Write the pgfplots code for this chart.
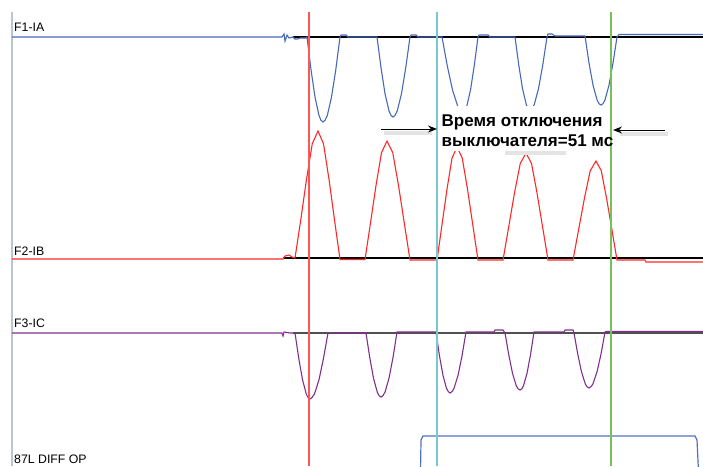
\documentclass[border=0pt]{standalone}
\usepackage{pgfplots}
\pgfplotsset{compat=1.18}
\usepackage{fontspec}
\setmainfont{Liberation Sans}
\usetikzlibrary{arrows.meta}
\definecolor{traceA}{RGB}{70,105,185}
\definecolor{traceB}{RGB}{255,40,40}
\definecolor{traceC}{RGB}{128,48,140}
\definecolor{vred}{RGB}{255,85,85}
\definecolor{vcyan}{RGB}{120,200,210}
\definecolor{vgreen}{RGB}{120,190,90}
\definecolor{axgray}{RGB}{190,196,206}
\definecolor{stepblue}{RGB}{80,115,190}
\definecolor{basegray}{RGB}{80,80,80}
\definecolor{shadow}{RGB}{228,228,228}
\begin{document}
\begin{tikzpicture}
\path[use as bounding box] (0,0) rectangle (703pt,466pt);
\begin{axis}[
  at={(0,0)}, anchor=south west,
  width=703pt, height=466pt, scale only axis,
  xmin=0, xmax=703, ymin=0, ymax=466, y dir=reverse,
  hide axis, clip mode=individual,
]
% left axis line
\addplot[axgray, line width=1.3pt] coordinates {(12,12) (12,466)};
% baselines
\addplot[black, line width=1.3pt] coordinates {(293,37) (703,37)};
\addplot[black, line width=1.4pt] coordinates {(283,258) (703,258)};
\addplot[basegray, line width=1.3pt] coordinates {(293,333) (703,333)};
% F1-IA
\addplot[traceA, line width=1.1pt] coordinates {
(12,37) (282,37) (284,34) (285,41) (287,35) (289,38) (293,37) (295,39) (298,39) (300,38) (306,38)
(307,37) (311,69.6) (315,97.1) (319,115.5) (321,120.3) (323,122) (325,120.3) (327.3,115.5) (331.5,97.1) (335.8,69.6) (340,37)
(341,35) (346,35) (348,37) (377,37)
(381,67.6) (385,93.6) (389,110.9) (391,115.4) (393,117) (395,115.4) (397.25,110.9) (401.5,93.6) (405.75,67.6) (410,37)
(411,35) (416,35) (418,37) (442,37)
(447.25,65.7) (452.5,90) (457.75,106.3) (460.5,110.5) (463,112) (465,110.5) (466.75,106.3) (470.5,90) (474.25,65.7) (478,37)
(479,35) (488,35) (490,37) (515,37)
(518.75,65) (522.5,88.6) (526.25,104.5) (528,108.5) (530,110) (532,108.5) (534.25,104.5) (538.5,88.6) (542.75,65) (547,37)
(548,34) (552,34) (555,36) (585,36)
(589,63) (593,85.1) (597,99.8) (599,103.7) (601,105) (603,103.7) (605,99.8) (609,85.1) (613,63) (617,37)
(619,34.5) (703,34.5)};
% F2-IB
\addplot[traceB, line width=1.1pt] coordinates {
(12,259) (283,259) (285,256) (289,255) (292,257) (295,258)
(300.75,219.9) (306.5,179.3) (312.25,143.8) (318,131) (323.5,143.8) (329,179.3) (334.5,219.9) (340,259.5)
(365,259.5)
(370.5,222.9) (376,185.5) (381.5,152.7) (387,141) (392.75,152.7) (398.5,185.5) (404.25,222.9) (410,260)
(437,260)
(442,224.7) (447,189.2) (452,158.1) (457,147) (462.25,158.1) (467.5,189.2) (472.75,224.7) (478,260)
(503,260)
(508.75,226.5) (514.5,192.9) (520.25,163.5) (526,153) (531.5,163.5) (537,192.9) (542.5,226.5) (548,260)
(573,260)
(578.75,228.9) (584.5,197.9) (590.25,170.7) (596,161) (601.25,170.7) (606.5,197.9) (611.75,228.9) (617,260)
(645,260) (646,262) (703,262)};
% F3-IC
\addplot[traceC, line width=1.1pt] coordinates {
(12,333) (282,333) (283,336) (284,332) (290,333) (295,333)
(298.75,358.3) (302.5,379.7) (306.25,394) (308,397.5) (310,399) (312,397.5) (314.5,394) (319,379.7) (323.5,358.3) (328,333)
(366,333)
(369.75,357.5) (373.5,378.2) (377.25,392.1) (379,395.5) (381,397) (383,395.5) (385,392.1) (389,378.2) (393,357.5) (397,332)
(436,332)
(439.5,356) (443,375.4) (446.5,388.4) (448.3,391.6) (450,393) (452,391.6) (454,388.4) (458,375.4) (462,356) (466,332)
(494,332) (495,330) (503,330) (505,333)
(508.75,354.8) (512.5,373.3) (516.25,385.7) (518,388.7) (520,390) (522,388.7) (523.5,385.7) (527,373.3) (530.5,354.8) (534,332)
(564,332) (565,330) (573,330) (574,333)
(577.75,354.1) (581.5,371.9) (585.25,383.8) (587,386.7) (589,388) (591,386.7) (593,383.8) (597,371.9) (601,354.1) (605,332)
(606,331.5) (703,331.5)};
% 87L DIFF OP
\addplot[stepblue, line width=1.2pt] coordinates {(420.5,472) (421,440) (423,436) (695,436) (697,440) (698.5,472)};
% vertical cursors
\addplot[vred, line width=1.3pt] coordinates {(309,12) (309,466)};
\addplot[vcyan, line width=1.2pt] coordinates {(437,12) (437,466)};
\addplot[vgreen, line width=1.2pt] coordinates {(611,12) (611,466)};
% channel labels
\node[anchor=base west, inner sep=0pt, font=\fontsize{12.3}{14}\selectfont] at (axis cs:14,31.7) {F1-IA};
\node[anchor=base west, inner sep=0pt, font=\fontsize{12.3}{14}\selectfont] at (axis cs:14,255) {F2-IB};
\node[anchor=base west, inner sep=0pt, font=\fontsize{12.3}{14}\selectfont] at (axis cs:14,327.3) {F3-IC};
\node[anchor=base west, inner sep=0pt, font=\fontsize{12.3}{14}\selectfont] at (axis cs:14,463.3) {87L DIFF OP};
% annotation shadows
\draw[shadow, line width=3.5pt] (axis cs:384,133) -- (axis cs:432,133);
\draw[shadow, line width=3.5pt] (axis cs:620,134) -- (axis cs:668,134);
\draw[shadow, line width=3.5pt] (axis cs:505,153) -- (axis cs:566,153);
% annotation box
\fill[white] (axis cs:440,106) rectangle (axis cs:609.5,151);
\node[anchor=base west, inner sep=0pt, font=\fontsize{17}{20}\selectfont\bfseries] at (axis cs:441.5,126) {Время отключения};
\node[anchor=base west, inner sep=0pt, font=\fontsize{17}{20}\selectfont\bfseries] at (axis cs:441.5,146) {выключателя=51 мс};
% arrows
\draw[black, line width=1pt, -{Stealth[length=9pt,width=7pt]}] (axis cs:381,129) -- (axis cs:437,129);
\draw[black, line width=1pt, -{Stealth[length=9pt,width=7pt]}] (axis cs:665,130) -- (axis cs:613,130);
\end{axis}
\end{tikzpicture}
\end{document}
